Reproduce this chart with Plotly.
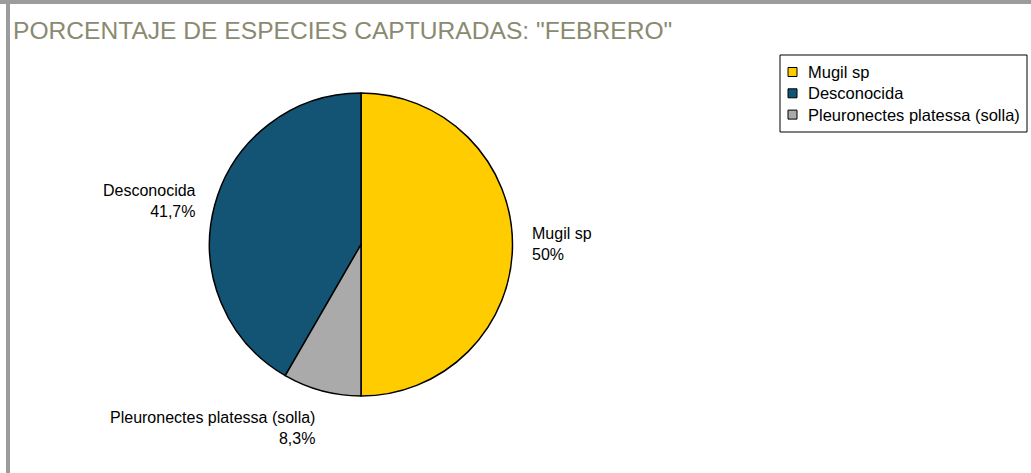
import math
import plotly.graph_objects as go

categories = ["Mugil sp", "Desconocida", "Pleuronectes platessa (solla)"]
values = [6, 5, 1]
colors = ["#FFCC00", "#135474", "#AAAAAA"]
title_text = 'PORCENTAJE DE ESPECIES CAPTURADAS: "FEBRERO"'

W, H = 1031, 473
cx, cy, r = 361, 244.5, 151.5
FONT = "Liberation Sans, Arial, sans-serif"
ROT = 0

fig = go.Figure(go.Pie(
    labels=categories,
    values=values,
    sort=False,
    direction="counterclockwise",
    rotation=ROT,
    marker=dict(colors=colors, line=dict(color="#000000", width=1.5)),
    textinfo="none",
    hoverinfo="label+percent",
    showlegend=False,
    domain=dict(x=[(cx - r) / W, (cx + r) / W], y=[1 - (cy + r) / H, 1 - (cy - r) / H]),
))

# slice labels positioned from the data (same angle logic as plotly's counterclockwise pie)
total = sum(values)
annotations = []
cur = None
for i, (lab, v) in enumerate(zip(categories, values)):
    span = v / total * 360
    if i == 0:
        mid = ROT + span / 2
        cur = ROT
    else:
        mid = cur - span / 2
        cur -= span
    mid %= 360
    pct = round(v / total * 100, 1)
    pct_txt = (f"{pct:g}").replace(".", ",") + "%"
    s, c = math.sin(math.radians(mid)), math.cos(math.radians(mid))
    rr = r + 17
    px, py = cx + rr * s, cy - rr * c
    xanchor = "left" if s > 0.01 else "right"
    if c > 0.7:
        yanchor = "bottom"
    elif c < -0.7:
        yanchor = "top"
    else:
        yanchor = "middle"
    annotations.append(dict(
        x=px / W, y=1 - py / H, xref="paper", yref="paper",
        text=f"{lab}<br>{pct_txt}", showarrow=False,
        xanchor=xanchor, yanchor=yanchor,
        align="left" if xanchor == "left" else "right",
        font=dict(family=FONT, size=16, color="#000000"),
    ))

annotations.append(dict(
    x=11 / W, y=1 - 30 / H, xref="paper", yref="paper", text=title_text,
    showarrow=False, xanchor="left", yanchor="middle",
    font=dict(family=FONT, size=24.6, color="#8A8A70"),
))

shapes = [
    dict(type="rect", xref="paper", yref="paper", x0=0, x1=1, y0=1 - 4 / H, y1=1,
         fillcolor="#9C9C9C", line=dict(width=0)),
    dict(type="rect", xref="paper", yref="paper", x0=6 / W, x1=10 / W, y0=0, y1=1,
         fillcolor="#9C9C9C", line=dict(width=0)),
]

# legend box (built from the category / colour lists)
LX0, LX1, LY0, LY1 = 780, 1027, 55, 132
ROW0, ROWH, SW = 72, 21.3, 9
shapes.append(dict(type="rect", xref="paper", yref="paper",
                   x0=LX0 / W, x1=LX1 / W, y0=1 - LY1 / H, y1=1 - LY0 / H,
                   fillcolor="#FFFFFF", line=dict(color="#000000", width=1)))
for i, (lab, col) in enumerate(zip(categories, colors)):
    yc = ROW0 + i * ROWH
    shapes.append(dict(type="rect", xref="paper", yref="paper",
                       x0=788 / W, x1=(788 + SW) / W,
                       y0=1 - (yc + SW / 2) / H, y1=1 - (yc - SW / 2) / H,
                       fillcolor=col, line=dict(color="#000000", width=1)))
    annotations.append(dict(
        x=806 / W, y=1 - yc / H, xref="paper", yref="paper", text=lab,
        showarrow=False, xanchor="left", yanchor="middle",
        font=dict(family=FONT, size=16.5, color="#000000"),
    ))

fig.update_layout(
    width=W, height=H,
    margin=dict(l=0, r=0, t=0, b=0),
    paper_bgcolor="#FFFFFF", plot_bgcolor="#FFFFFF",
    showlegend=False,
    annotations=annotations,
    shapes=shapes,
)

fig.write_html(
    "out.html",
    config={"displayModeBar": False},
    post_script="document.body.style.margin='0px';document.body.style.overflow='hidden';",
)
